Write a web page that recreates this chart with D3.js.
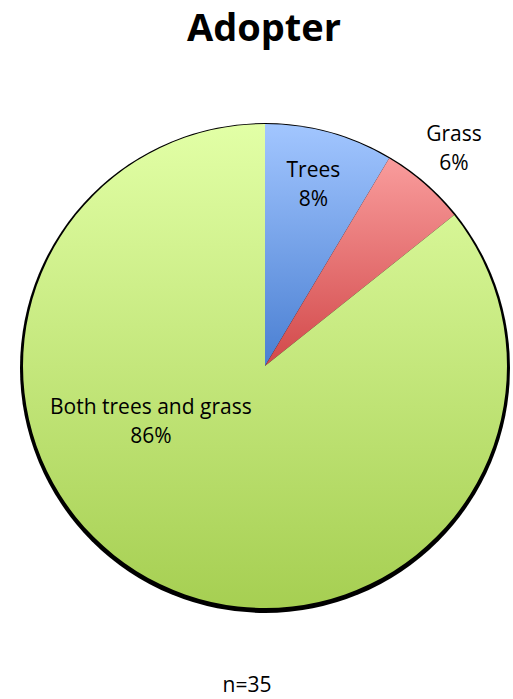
<!DOCTYPE html>
<html>
<head>
<meta charset="utf-8">
<script src="https://cdn.jsdelivr.net/npm/d3@7"></script>
<style>
  body { margin: 0; background: #fff; }
  text { font-family: "Open Sans", "Noto Sans", sans-serif; fill: #000; }
</style>
</head>
<body>
<script>
//chart data
var categories = ["Trees", "Grass", "Both trees and grass"];
var counts = [3, 2, 30];
var percentLabels = ["8%", "6%", "86%"];
var title = "Adopter";
var note = "n=35";

//gradient colours per slice (top, bottom)
var topColors = ["#a2c6ff", "#f99c9c", "#e2ffa6"];
var bottomColors = ["#4a7fd2", "#d2494a", "#a6cf52"];

//where each label sits: radius and angle in degrees (clockwise from top)
var labelSpots = [{r: 187, a: 15}, {r: 288, a: 41}, {r: 127, a: 244}];

var width = 513,
    height = 699;

var cx = 265, cy = 366, radius = 242;

var svg = d3.select("body")
    .append("svg")
    .attr("width", width)
    .attr("height", height);

var defs = svg.append("defs");

//vertical gradient for each slice
categories.forEach(function(c, i){
    var g = defs.append("linearGradient")
        .attr("id", "grad" + i)
        .attr("x1", 0).attr("y1", 0)
        .attr("x2", 0).attr("y2", 1);
    g.append("stop").attr("offset", "0%").attr("stop-color", topColors[i]);
    g.append("stop").attr("offset", "100%").attr("stop-color", bottomColors[i]);
});

//title
svg.append("text")
    .attr("x", 264)
    .attr("y", 41)
    .attr("text-anchor", "middle")
    .style("font-size", "38px")
    .style("font-weight", "bold")
    .text(title);

//shadow behind pie
svg.append("circle")
    .attr("cx", cx)
    .attr("cy", cy + 2)
    .attr("r", radius + 3)
    .attr("fill", "#000");

var pie = d3.pie()
    .sort(null)
    .value(function(d){ return d; });

var arc = d3.arc()
    .innerRadius(0)
    .outerRadius(radius);

var g = svg.append("g")
    .attr("transform", "translate(" + cx + "," + cy + ")");

var arcs = pie(counts);

g.selectAll(".slice")
    .data(arcs)
    .enter()
    .append("path")
    .attr("class", "slice")
    .attr("d", arc)
    .attr("fill", function(d, i){ return "url(#grad" + i + ")"; });

//labels
var labels = g.selectAll(".lbl")
    .data(arcs)
    .enter()
    .append("text")
    .attr("class", "lbl")
    .attr("text-anchor", "middle")
    .style("font-size", "21px")
    .attr("transform", function(d, i){
        var s = labelSpots[i],
            a = s.a * Math.PI / 180;
        return "translate(" + (s.r * Math.sin(a)) + "," + (-s.r * Math.cos(a)) + ")";
    });

labels.append("tspan")
    .attr("x", 0)
    .attr("dy", -8)
    .text(function(d, i){ return categories[i]; });

labels.append("tspan")
    .attr("x", 0)
    .attr("dy", 29)
    .text(function(d, i){ return percentLabels[i]; });

//sample size note
svg.append("text")
    .attr("x", 247)
    .attr("y", 692)
    .attr("text-anchor", "middle")
    .style("font-size", "21px")
    .text(note);
</script>
</body>
</html>
